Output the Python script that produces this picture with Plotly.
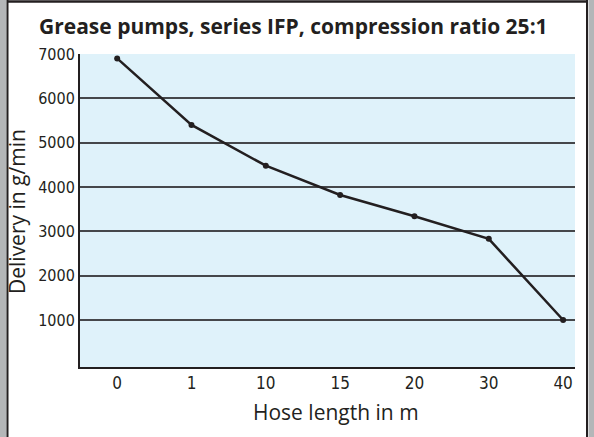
import plotly.graph_objects as go

# data
hose_length = ["0", "1", "10", "15", "20", "30", "40"]
delivery = [6900, 5400, 4480, 3820, 3340, 2830, 1000]
y_ticks = [1000, 2000, 3000, 4000, 5000, 6000, 7000]

W, H = 594, 437
L, R, T, B = 80, 19, 54, 70
pw = W - L - R
ph = H - T - B

def px_x(p):
    return (p - L) / pw

def px_y(p):
    return 1 - (p - T) / ph

line_col = "#231f20"
narrow = "Liberation Sans Narrow, DejaVu Sans Condensed, Liberation Sans, sans-serif"
title_font = dict(family="Open Sans, sans-serif", size=21, color=line_col)

fig = go.Figure()
fig.add_trace(go.Scatter(
    x=hose_length, y=delivery, mode="lines+markers",
    line=dict(color=line_col, width=2.5),
    marker=dict(color=line_col, size=6),
    showlegend=False, hoverinfo="x+y",
))

# frame around the picture
shapes = [
    dict(type="rect", xref="paper", yref="paper", x0=px_x(0), x1=px_x(6.5),
         y0=px_y(H), y1=px_y(0), fillcolor="#b4b6b8", line_width=0, layer="above"),
    dict(type="rect", xref="paper", yref="paper", x0=px_x(588.5), x1=px_x(W),
         y0=px_y(H), y1=px_y(0), fillcolor="#b4b6b8", line_width=0, layer="above"),
    dict(type="line", xref="paper", yref="paper", x0=px_x(7.5), x1=px_x(7.5),
         y0=px_y(H), y1=px_y(0), line=dict(color=line_col, width=2)),
    dict(type="line", xref="paper", yref="paper", x0=px_x(587), x1=px_x(587),
         y0=px_y(H), y1=px_y(0), line=dict(color=line_col, width=2)),
    dict(type="line", xref="paper", yref="paper", x0=px_x(7), x1=px_x(588),
         y0=px_y(1.5), y1=px_y(1.5), line=dict(color=line_col, width=2.5)),
]

fig.update_layout(
    width=W, height=H,
    margin=dict(l=L, r=R, t=T, b=B, autoexpand=False),
    paper_bgcolor="white",
    plot_bgcolor="#dff2fa",
    shapes=shapes,
    title=dict(
        text="<b>Grease pumps, series IFP, compression ratio 25:1</b>",
        x=39 / W, xanchor="left", xref="container",
        y=1 - 27 / H, yanchor="middle", yref="container",
        font=title_font,
    ),
    annotations=[
        dict(text="Hose length in m", xref="paper", yref="paper",
             x=px_x(336), y=px_y(412), xanchor="center", yanchor="middle",
             showarrow=False, font=title_font),
        dict(text="Delivery in g/min", xref="paper", yref="paper", textangle=-90,
             x=px_x(17), y=px_y(212), xanchor="center", yanchor="middle",
             showarrow=False, font=title_font),
    ],
    xaxis=dict(
        type="category", range=[-0.5, 6.16],
        showgrid=False, zeroline=False, automargin=False,
        showline=True, linecolor=line_col, linewidth=2,
        ticks="", tickfont=dict(family=narrow, size=17, color=line_col),
    ),
    yaxis=dict(
        range=[-60, 7000], tickvals=y_ticks,
        showgrid=True, gridcolor="#45474a", gridwidth=1.6,
        zeroline=False, automargin=False,
        showline=True, linecolor=line_col, linewidth=2,
        ticks="", tickfont=dict(family=narrow, size=16, color=line_col),
    ),
)

# drop the browser's default page margin so the figure sits at the window corner
fig.write_html("out.html", config={"displayModeBar": False},
               post_script="document.body.style.margin='0';")
